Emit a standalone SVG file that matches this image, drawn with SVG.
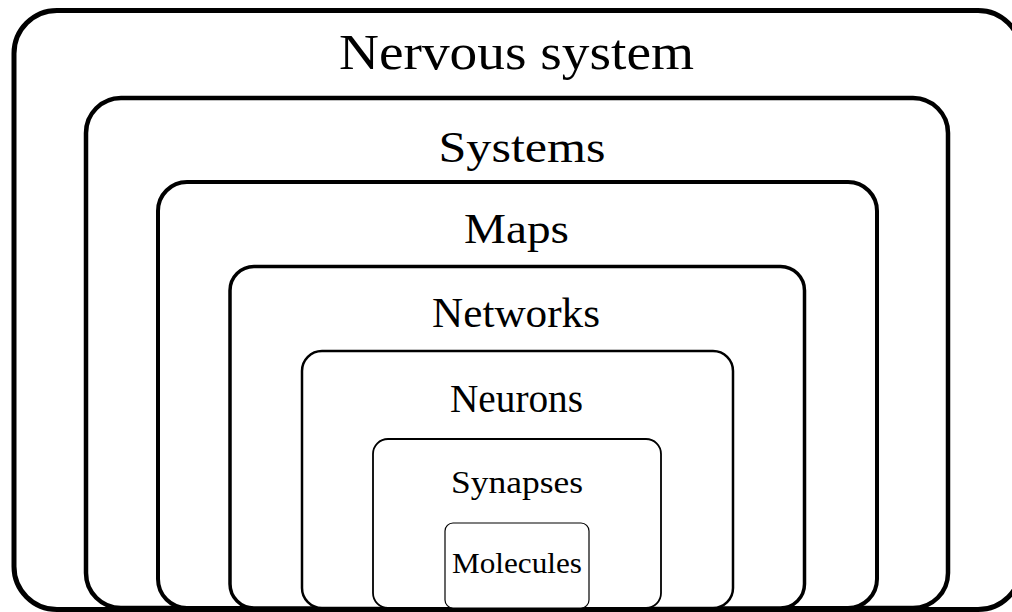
<svg xmlns="http://www.w3.org/2000/svg" width="1012" height="612" viewBox="0 0 1012 612">
  <style>
    .box { fill: #ffffff; stroke: #000000; }
    .lbl { font-family: "Liberation Serif", "DejaVu Serif", serif; fill: #000000; text-anchor: middle; }
  </style>
  <rect x="0" y="0" width="1012" height="612" fill="#ffffff"/>

  <!-- nested levels, outermost first -->
  <g id="nervous-system">
    <rect class="box" x="14" y="10.5" width="1007" height="599" rx="43" ry="43" stroke-width="5"/>
    <text class="lbl" x="516.5" y="69" font-size="51" textLength="355" lengthAdjust="spacingAndGlyphs">Nervous system</text>
  </g>
  <g id="systems">
    <rect class="box" x="86" y="98" width="862" height="510" rx="35" ry="35" stroke-width="4.5"/>
    <text class="lbl" x="522" y="162" font-size="44" textLength="167" lengthAdjust="spacingAndGlyphs">Systems</text>
  </g>
  <g id="maps">
    <rect class="box" x="158" y="182" width="719" height="426" rx="29" ry="29" stroke-width="4"/>
    <text class="lbl" x="516.5" y="243" font-size="43" textLength="105" lengthAdjust="spacingAndGlyphs">Maps</text>
  </g>
  <g id="networks">
    <rect class="box" x="230" y="266.5" width="574.5" height="341.5" rx="24" ry="24" stroke-width="3.5"/>
    <text class="lbl" x="516" y="327" font-size="42" textLength="168" lengthAdjust="spacingAndGlyphs">Networks</text>
  </g>
  <g id="neurons">
    <rect class="box" x="302" y="351" width="431" height="257" rx="20" ry="20" stroke-width="2.5"/>
    <text class="lbl" x="516.5" y="412" font-size="39" textLength="133" lengthAdjust="spacingAndGlyphs">Neurons</text>
  </g>
  <g id="synapses">
    <rect class="box" x="373" y="439" width="288" height="169" rx="15" ry="15" stroke-width="1.8"/>
    <text class="lbl" x="517" y="493" font-size="32" textLength="132" lengthAdjust="spacingAndGlyphs">Synapses</text>
  </g>
  <g id="molecules">
    <rect class="box" x="445" y="523" width="144" height="85" rx="8" ry="8" stroke-width="1.2"/>
    <text class="lbl" x="517" y="573" font-size="29" textLength="130" lengthAdjust="spacingAndGlyphs">Molecules</text>
  </g>

  <!-- no connectors: containment is shown by nesting -->
  <g id="connectors"/>
</svg>
